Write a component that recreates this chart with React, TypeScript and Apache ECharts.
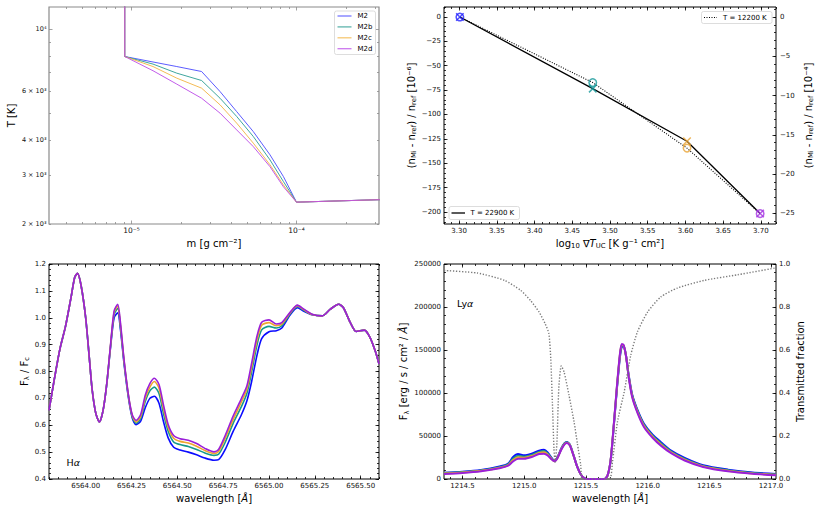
import React, { useEffect, useRef } from 'react';
import * as echarts from 'echarts';

const FONT = 'DejaVu Sans';
const BLACK = '#000000';
const GREY = '#8a8a8a';

// ---------- Panel A : temperature structure T(m) ----------
const modelNames = ['M2', 'M2b', 'M2c', 'M2d'];
const atmColors = ['#4a4aff', '#2a9c92', '#f2b443', '#bb4ae8'];
const massGrid = [9.1e-6, 9.1e-6, 1.35e-5, 1.88e-5, 2.66e-5, 3.44e-5, 4.34e-5, 5.47e-5, 6.91e-5, 8.33e-5, 1.0e-4, 3.2e-4];
const tempM2 = [20000, 7975, 7620, 7340, 7045, 5970, 5060, 4290, 3540, 2960, 2395, 2445];
const tempM2b = [20000, 7975, 7490, 6950, 6540, 5650, 4860, 4120, 3395, 2840, 2395, 2445];
const tempM2c = [20000, 7975, 7340, 6670, 6140, 5350, 4600, 3900, 3260, 2760, 2395, 2445];
const tempM2d = [20000, 7975, 7090, 6350, 5650, 4995, 4350, 3790, 3210, 2720, 2395, 2445];
const massRange = [3.1623e-6, 3.1623e-4];
const tempRange = [2000, 12000];
const massMajorTicks = [1e-5, 1e-4];
const massTickLabels = ['10⁻⁵', '10⁻⁴'];
const massMinorTicks = [4e-6, 5e-6, 6e-6, 7e-6, 8e-6, 9e-6, 2e-5, 3e-5, 4e-5, 5e-5, 6e-5, 7e-5, 8e-5, 9e-5, 2e-4, 3e-4];
const tempMajorTicks = [10000];
const tempLabelTicks = [2000, 3000, 4000, 6000, 10000];
const tempTickLabels = ['2 × 10³', '3 × 10³', '4 × 10³', '6 × 10³', '10⁴'];
const tempMinorTicks = [2000, 3000, 4000, 5000, 6000, 7000, 8000, 9000];

// ---------- Panel B : refractive index change vs gradient ----------
const gradTuc = [2000, 3000, 4000, 5000];
const markerColors = ['#2323ff', '#17999a', '#e9a332', '#a535e2'];
const dnHot = [0, -73.5, -127.5, -201.5]; // T = 22900 K, 1e-6
const dnCool = [0, -8.35, -16.7, -25.05]; // T = 12200 K, 1e-4
const gradRange = [3.28, 3.72];
const dnHotRange = [-212.3, 10.2];
const dnCoolRange = [-26.37, 1.28];
const gradTicks = [3.3, 3.35, 3.4, 3.45, 3.5, 3.55, 3.6, 3.65, 3.7];
const dnHotTicks = [-200, -175, -150, -125, -100, -75, -50, -25, 0];
const dnCoolTicks = [-25, -20, -15, -10, -5, 0];
const hotLegend = 'T = 22900 K';
const coolLegend = 'T = 12200 K';

// ---------- Panel C : H alpha ----------
const haWave = [6563.80, 6563.83, 6563.86, 6563.89, 6563.92, 6563.94, 6563.955, 6563.975, 6564.00, 6564.02, 6564.035, 6564.055, 6564.075, 6564.095, 6564.115, 6564.135, 6564.155, 6564.175, 6564.19, 6564.21, 6564.235, 6564.255, 6564.275, 6564.30, 6564.325, 6564.35, 6564.375, 6564.40, 6564.425, 6564.45, 6564.48, 6564.515, 6564.56, 6564.605, 6564.65, 6564.70, 6564.725, 6564.76, 6564.805, 6564.85, 6564.88, 6564.905, 6564.935, 6564.96, 6565.00, 6565.04, 6565.07, 6565.115, 6565.155, 6565.19, 6565.235, 6565.29, 6565.335, 6565.38, 6565.405, 6565.445, 6565.475, 6565.52, 6565.55, 6565.58, 6565.60];
const haM2 = [0.655, 0.775, 0.885, 0.968, 1.075, 1.15, 1.165, 1.12, 1.0, 0.85, 0.735, 0.645, 0.612, 0.655, 0.752, 0.885, 1.0, 1.018, 0.955, 0.825, 0.695, 0.625, 0.602, 0.615, 0.665, 0.7, 0.708, 0.682, 0.612, 0.553, 0.518, 0.508, 0.5, 0.49, 0.478, 0.47, 0.472, 0.508, 0.578, 0.64, 0.692, 0.762, 0.862, 0.922, 0.948, 0.952, 0.962, 1.01, 1.037, 1.024, 1.011, 1.007, 1.032, 1.05, 1.038, 0.98, 0.949, 0.954, 0.928, 0.875, 0.828];
const haM2b = [0.655, 0.775, 0.885, 0.968, 1.075, 1.15, 1.165, 1.12, 1.0, 0.85, 0.735, 0.645, 0.612, 0.655, 0.754, 0.89, 1.012, 1.035, 0.965, 0.832, 0.7, 0.63, 0.607, 0.625, 0.688, 0.728, 0.742, 0.718, 0.642, 0.578, 0.538, 0.528, 0.521, 0.51, 0.497, 0.488, 0.492, 0.535, 0.608, 0.67, 0.72, 0.797, 0.9, 0.955, 0.968, 0.962, 0.97, 1.015, 1.042, 1.028, 1.012, 1.007, 1.032, 1.05, 1.038, 0.98, 0.949, 0.954, 0.928, 0.875, 0.828];
const haM2c = [0.655, 0.775, 0.885, 0.968, 1.075, 1.15, 1.165, 1.12, 1.0, 0.85, 0.735, 0.645, 0.612, 0.655, 0.755, 0.892, 1.02, 1.044, 0.972, 0.836, 0.703, 0.634, 0.612, 0.633, 0.7, 0.742, 0.763, 0.738, 0.66, 0.592, 0.552, 0.54, 0.534, 0.522, 0.506, 0.495, 0.502, 0.55, 0.622, 0.688, 0.735, 0.815, 0.918, 0.972, 0.982, 0.97, 0.976, 1.018, 1.045, 1.03, 1.012, 1.007, 1.032, 1.05, 1.038, 0.98, 0.949, 0.954, 0.928, 0.875, 0.828];
const haM2d = [0.655, 0.775, 0.885, 0.968, 1.075, 1.15, 1.165, 1.12, 1.0, 0.85, 0.735, 0.645, 0.612, 0.655, 0.755, 0.895, 1.025, 1.05, 0.98, 0.84, 0.705, 0.637, 0.618, 0.64, 0.712, 0.755, 0.775, 0.752, 0.674, 0.603, 0.562, 0.55, 0.544, 0.532, 0.514, 0.501, 0.51, 0.56, 0.635, 0.7, 0.748, 0.83, 0.933, 0.983, 0.992, 0.977, 0.982, 1.02, 1.047, 1.032, 1.013, 1.007, 1.032, 1.05, 1.038, 0.98, 0.949, 0.954, 0.928, 0.875, 0.828];
const lineColors = ['#0b0bff', '#15998c', '#eea52e', '#9a1fd9'];
const haRange = [6563.80, 6565.60];
const haFluxRange = [0.4, 1.2];
const haWaveTicks = [6564.0, 6564.25, 6564.5, 6564.75, 6565.0, 6565.25, 6565.5];
const haFluxTicks = [0.4, 0.5, 0.6, 0.7, 0.8, 0.9, 1.0, 1.1, 1.2];

// ---------- Panel D : Lyman alpha ----------
const lyWave = [1214.35, 1214.5, 1214.65, 1214.8, 1214.87, 1214.91, 1214.95, 1215.0, 1215.06, 1215.12, 1215.16, 1215.19, 1215.22, 1215.245, 1215.27, 1215.3, 1215.325, 1215.345, 1215.37, 1215.4, 1215.43, 1215.46, 1215.49, 1215.52, 1215.6, 1215.65, 1215.675, 1215.7, 1215.725, 1215.75, 1215.775, 1215.79, 1215.805, 1215.825, 1215.845, 1215.875, 1215.92, 1215.97, 1216.04, 1216.11, 1216.19, 1216.3, 1216.45, 1216.65, 1216.85, 1217.04];
const lyM2 = [7400, 8500, 10500, 14500, 18000, 25500, 29000, 27500, 29500, 33000, 34000, 31000, 25000, 21000, 25500, 35500, 41500, 43000, 40000, 27500, 14000, 5000, 800, 0, 0, 0, 3800, 21000, 60000, 103000, 141000, 153500, 154000, 143000, 122000, 98000, 79500, 64300, 51500, 42500, 33000, 24500, 16000, 10900, 7500, 5800];
const lyM2b = [7000, 8000, 10000, 13800, 17000, 23800, 27000, 26000, 28000, 31500, 32500, 29800, 24300, 20800, 25200, 35000, 41000, 42600, 39600, 27300, 14000, 5000, 800, 0, 0, 0, 3900, 21500, 61000, 104500, 143000, 155000, 155000, 143000, 121300, 97000, 78300, 63000, 50300, 41200, 32000, 23500, 15300, 10200, 7000, 5300];
const lyM2c = [6400, 7500, 9500, 13100, 16200, 22000, 25200, 24700, 26700, 30200, 31000, 28600, 23600, 20600, 24800, 34500, 40500, 42200, 39300, 27100, 14000, 5000, 800, 0, 0, 0, 3950, 21800, 61500, 105300, 144000, 156000, 155500, 143000, 120700, 96000, 77200, 61800, 49200, 39900, 31000, 22500, 14600, 9500, 6500, 4800];
const lyM2d = [5800, 7000, 9000, 12500, 15500, 20500, 23500, 23500, 25500, 29000, 29500, 27500, 23000, 20500, 24500, 34000, 40000, 41900, 39000, 27000, 14000, 5000, 800, 0, 0, 0, 4000, 22000, 62000, 106000, 145000, 157000, 156000, 143000, 120000, 95000, 76000, 60500, 48000, 38500, 30000, 21500, 14000, 8900, 6000, 4300];
const transWave = [1214.35, 1214.62, 1214.84, 1214.97, 1215.05, 1215.12, 1215.17, 1215.2, 1215.215, 1215.228, 1215.241, 1215.25, 1215.265, 1215.28, 1215.3, 1215.323, 1215.363, 1215.404, 1215.431, 1215.458, 1215.471, 1215.69, 1215.715, 1215.755, 1215.81, 1215.863, 1215.917, 1216.0, 1216.107, 1216.24, 1216.46, 1216.73, 1217.04];
const transFrac = [0.97, 0.958, 0.924, 0.878, 0.831, 0.777, 0.722, 0.676, 0.56, 0.358, 0.141, 0.079, 0.17, 0.42, 0.526, 0.498, 0.389, 0.265, 0.164, 0.064, 0, 0, 0.079, 0.265, 0.405, 0.575, 0.684, 0.777, 0.847, 0.888, 0.924, 0.95, 0.982];
const lyRange = [1214.35, 1217.04];
const lyFluxRange = [0, 250000];
const transRange = [0, 1];
const lyWaveTicks = [1214.5, 1215.0, 1215.5, 1216.0, 1216.5, 1217.0];
const lyFluxTicks = [0, 50000, 100000, 150000, 200000, 250000];
const transTicks = [0, 0.2, 0.4, 0.6, 0.8, 1.0];

// ---------- helpers ----------
const L10 = (v: number) => Math.log10(v);
function stepTicks(min: number, max: number, step: number) {
  const out: number[] = [];
  const k0 = Math.ceil(min / step - 1e-7);
  const k1 = Math.floor(max / step + 1e-7);
  for (let k = k0; k <= k1; k++) out.push(+(k * step).toFixed(6));
  return out;
}
const minus = (s: string) => s.replace('-', '−');
const fmtFixed = (d: number) => (v: number) => minus(v.toFixed(d));
const fmtInt = (v: number) => minus(String(Math.round(v)));
function fmtLookup(values: number[], labels: string[]) {
  return (v: number) => {
    let best = 0;
    for (let i = 1; i < values.length; i++) if (Math.abs(values[i] - v) < Math.abs(values[best] - v)) best = i;
    return labels[best];
  };
}

const RICH = {
  sub: { fontSize: 6.8, fontFamily: FONT, color: '#000', verticalAlign: 'bottom', lineHeight: 7 },
  it: { fontSize: 10, fontFamily: FONT, color: '#000', fontStyle: 'italic', lineHeight: 13 },
};

type LabelSpec = { values: number[]; fmt: (v: number) => string; size: number; margin?: number };
type NameSpec = { text: string; gap: number };

function mkAxis(grid: number, position: string, range: number[], ticks: number[], tickLen: number, tickColor: string, label?: LabelSpec, name?: NameSpec) {
  const ax: any = {
    type: 'value',
    gridIndex: grid,
    position,
    min: range[0],
    max: range[1],
    axisLine: { show: false, onZero: false },
    splitLine: { show: false },
    axisPointer: { show: false },
    axisTick: { show: true, inside: true, length: tickLen, customValues: ticks, lineStyle: { color: tickColor, width: 0.8 } },
    axisLabel: label
      ? { show: true, customValues: label.values, formatter: (v: number) => label.fmt(v), fontSize: label.size, fontFamily: FONT, color: '#111', margin: label.margin ?? 3 }
      : { show: false },
  };
  if (name) {
    ax.name = name.text;
    ax.nameLocation = 'middle';
    ax.nameGap = name.gap;
    ax.nameTextStyle = { fontSize: 10, fontFamily: FONT, color: '#000', lineHeight: 13, rich: RICH };
    if (position === 'left' || position === 'right') ax.nameRotate = 90;
  }
  return ax;
}

const MAJ = 3.5;
const MIN = 2;

function buildOption() {
  const grids = [
    { left: 49, top: 7, width: 330, height: 217, border: GREY, bw: 1.2 },
    { left: 444, top: 7, width: 332, height: 217, border: BLACK, bw: 1 },
    { left: 49, top: 264, width: 330, height: 215, border: BLACK, bw: 1 },
    { left: 444, top: 264, width: 332, height: 215, border: BLACK, bw: 1 },
  ];

  const xAxes: any[] = [];
  const yAxes: any[] = [];

  // Panel A (grid 0) — log axes drawn on log10 values
  const aX = massRange.map(L10);
  const aY = tempRange.map(L10);
  const aXMaj = massMajorTicks.map(L10);
  const aXMin = massMinorTicks.map(L10);
  const aYMaj = tempMajorTicks.map(L10);
  const aYLab = tempLabelTicks.map(L10);
  const aYMin = tempMinorTicks.map(L10);
  xAxes.push(
    mkAxis(0, 'bottom', aX, aXMaj, MAJ, GREY, { values: aXMaj, fmt: fmtLookup(aXMaj, massTickLabels), size: 7.5, margin: 2.5 }, { text: 'm [g cm⁻²]', gap: 12.5 }),
    mkAxis(0, 'top', aX, aXMaj, MAJ, GREY),
    mkAxis(0, 'bottom', aX, aXMin, MIN, GREY),
    mkAxis(0, 'top', aX, aXMin, MIN, GREY),
  );
  yAxes.push(
    mkAxis(0, 'left', aY, aYMaj, MAJ, GREY, { values: aYLab, fmt: fmtLookup(aYLab, tempTickLabels), size: 6.5, margin: 2.5 }, { text: 'T [K]', gap: 29.5 }),
    mkAxis(0, 'right', aY, aYMaj, MAJ, GREY),
    mkAxis(0, 'left', aY, aYMin, MIN, GREY),
    mkAxis(0, 'right', aY, aYMin, MIN, GREY),
  );

  // Panel B (grid 1)
  const bX = gradRange;
  xAxes.push(
    mkAxis(1, 'bottom', bX, gradTicks, MAJ, BLACK, { values: gradTicks, fmt: fmtFixed(2), size: 7 }, { text: 'log{sub|10} ∇{it|T}{sub|UC} [K g⁻¹ cm²]', gap: 12.5 }),
    mkAxis(1, 'top', bX, gradTicks, MAJ, BLACK),
    mkAxis(1, 'bottom', bX, stepTicks(bX[0], bX[1], 0.01), MIN, BLACK),
    mkAxis(1, 'top', bX, stepTicks(bX[0], bX[1], 0.01), MIN, BLACK),
  );
  yAxes.push(
    mkAxis(1, 'left', dnHotRange, dnHotTicks, MAJ, BLACK, { values: dnHotTicks, fmt: fmtInt, size: 7 }, { text: '(n{sub|Mi} - n{sub|ref}) / n{sub|ref} [10⁻⁶]', gap: 25.5 }),
    mkAxis(1, 'right', dnCoolRange, dnCoolTicks, MAJ, BLACK, { values: dnCoolTicks, fmt: fmtInt, size: 7, margin: 4 }, { text: '(n{sub|Mi} - n{sub|ref}) / n{sub|ref} [10⁻⁴]', gap: 25.5 }),
    mkAxis(1, 'left', dnHotRange, stepTicks(dnHotRange[0], dnHotRange[1], 5), MIN, BLACK),
    mkAxis(1, 'right', dnCoolRange, stepTicks(dnCoolRange[0], dnCoolRange[1], 1), MIN, BLACK),
  );

  // Panel C (grid 2)
  xAxes.push(
    mkAxis(2, 'bottom', haRange, haWaveTicks, MAJ, BLACK, { values: haWaveTicks, fmt: fmtFixed(2), size: 7 }, { text: 'wavelength [{it|Å}]', gap: 12.5 }),
    mkAxis(2, 'top', haRange, haWaveTicks, MAJ, BLACK),
    mkAxis(2, 'bottom', haRange, stepTicks(haRange[0], haRange[1], 0.05), MIN, BLACK),
    mkAxis(2, 'top', haRange, stepTicks(haRange[0], haRange[1], 0.05), MIN, BLACK),
  );
  yAxes.push(
    mkAxis(2, 'left', haFluxRange, haFluxTicks, MAJ, BLACK, { values: haFluxTicks, fmt: fmtFixed(1), size: 7 }, { text: 'F{sub|λ} / F{sub|c}', gap: 17.5 }),
    mkAxis(2, 'right', haFluxRange, haFluxTicks, MAJ, BLACK),
    mkAxis(2, 'left', haFluxRange, stepTicks(haFluxRange[0], haFluxRange[1], 0.02), MIN, BLACK),
    mkAxis(2, 'right', haFluxRange, stepTicks(haFluxRange[0], haFluxRange[1], 0.02), MIN, BLACK),
  );

  // Panel D (grid 3)
  xAxes.push(
    mkAxis(3, 'bottom', lyRange, lyWaveTicks, MAJ, BLACK, { values: lyWaveTicks, fmt: fmtFixed(1), size: 7 }, { text: 'wavelength [{it|Å}]', gap: 12.5 }),
    mkAxis(3, 'top', lyRange, lyWaveTicks, MAJ, BLACK),
    mkAxis(3, 'bottom', lyRange, stepTicks(lyRange[0], lyRange[1], 0.1), MIN, BLACK),
    mkAxis(3, 'top', lyRange, stepTicks(lyRange[0], lyRange[1], 0.1), MIN, BLACK),
  );
  yAxes.push(
    mkAxis(3, 'left', lyFluxRange, lyFluxTicks, MAJ, BLACK, { values: lyFluxTicks, fmt: fmtInt, size: 7 }, { text: 'F{sub|λ} [erg / s / cm² / {it|Å}]', gap: 29.5 }),
    mkAxis(3, 'right', transRange, transTicks, MAJ, BLACK, { values: transTicks, fmt: fmtFixed(1), size: 7 }, { text: 'Transmitted fraction', gap: 17.3 }),
    mkAxis(3, 'left', lyFluxRange, stepTicks(lyFluxRange[0], lyFluxRange[1], 10000), MIN, BLACK),
    mkAxis(3, 'right', transRange, stepTicks(transRange[0], transRange[1], 0.04), MIN, BLACK),
  );

  const series: any[] = [];

  // Panel A series
  const tlTemps = [tempM2, tempM2b, tempM2c, tempM2d];
  modelNames.forEach((n, i) => {
    series.push({
      type: 'line', name: n, xAxisIndex: 0, yAxisIndex: 0, silent: true,
      showSymbol: false, symbol: 'none',
      data: massGrid.map((m, j) => [L10(m), L10(tlTemps[i][j])]),
      lineStyle: { color: atmColors[i], width: 1, opacity: 0.9 },
      itemStyle: { color: atmColors[i] },
      z: 2 + i,
    });
  });

  // Panel B series
  const gx = gradTuc.map(L10);
  series.push({
    type: 'line', name: hotLegend, xAxisIndex: 4, yAxisIndex: 4, silent: true, showSymbol: false, symbol: 'none',
    data: gx.map((x, i) => [x, dnHot[i]]),
    lineStyle: { color: '#000', width: 1.3 }, z: 3,
  });
  series.push({
    type: 'line', name: coolLegend, xAxisIndex: 4, yAxisIndex: 5, silent: true, showSymbol: false, symbol: 'none',
    data: gx.map((x, i) => [x, dnCool[i]]),
    lineStyle: { color: '#000', width: 1.1, type: [1, 1.5] }, z: 3,
  });
  series.push({
    type: 'scatter', name: 'circles', xAxisIndex: 4, yAxisIndex: 5, silent: true,
    symbol: 'circle', symbolSize: 7.5,
    data: gx.map((x, i) => ({ value: [x, dnCool[i]], itemStyle: { borderColor: markerColors[i] } })),
    itemStyle: { color: 'rgba(0,0,0,0)', borderWidth: 1.5 }, z: 5,
  });
  series.push({
    type: 'scatter', name: 'crosses', xAxisIndex: 4, yAxisIndex: 4, silent: true,
    symbol: 'path://M0,0 L10,10 M10,0 L0,10', symbolSize: 7.5,
    data: gx.map((x, i) => ({ value: [x, dnHot[i]], itemStyle: { borderColor: markerColors[i] } })),
    itemStyle: { color: 'rgba(0,0,0,0)', borderWidth: 1.5 }, z: 5,
  });

  // Panel C series
  const haSets = [haM2, haM2b, haM2c, haM2d];
  modelNames.forEach((n, i) => {
    series.push({
      type: 'line', name: 'Ha ' + n, xAxisIndex: 8, yAxisIndex: 8, silent: true, showSymbol: false, symbol: 'none',
      smooth: 0.25,
      data: haWave.map((w, j) => [w, haSets[i][j]]),
      lineStyle: { color: lineColors[i], width: 1.6 }, z: 2 + i,
    });
  });

  // Panel D series
  const lySets = [lyM2, lyM2b, lyM2c, lyM2d];
  modelNames.forEach((n, i) => {
    series.push({
      type: 'line', name: 'Lya ' + n, xAxisIndex: 12, yAxisIndex: 12, silent: true, showSymbol: false, symbol: 'none',
      smooth: 0.25,
      data: lyWave.map((w, j) => [w, lySets[i][j]]),
      lineStyle: { color: lineColors[i], width: 2 }, z: 2 + i,
    });
  });
  series.push({
    type: 'line', name: 'transmission', xAxisIndex: 12, yAxisIndex: 13, silent: true, showSymbol: false, symbol: 'none',
    smooth: 0.2,
    data: transWave.map((w, j) => [w, transFrac[j]]),
    lineStyle: { color: '#7a7a7a', width: 1.4, type: [1.3, 1.7] }, z: 8,
  });

  // Legends and annotations
  const txt = (x: number, y: number, text: string, size: number, extra: any = {}) => ({
    type: 'text', x, y, z: 101,
    style: { text, fontSize: size, fontFamily: FONT, fill: '#000', align: 'left', verticalAlign: 'middle', ...extra },
  });
  const graphic: any[] = [];
  graphic.push({ type: 'rect', z: 100, shape: { x: 334.5, y: 11, width: 41, height: 43.5, r: 2 }, style: { fill: '#fff', stroke: '#d4d4d4', lineWidth: 0.8 } });
  modelNames.forEach((n, i) => {
    const y = 16 + i * 10.9;
    graphic.push({ type: 'line', z: 101, shape: { x1: 337.5, y1: y, x2: 351.5, y2: y }, style: { stroke: atmColors[i], lineWidth: 1.3, opacity: 0.75 } });
    graphic.push(txt(357.5, y, n, 7));
  });
  graphic.push({ type: 'rect', z: 100, shape: { x: 701.5, y: 11.5, width: 70.5, height: 12, r: 2 }, style: { fill: '#fff', stroke: '#d4d4d4', lineWidth: 0.8 } });
  graphic.push({ type: 'line', z: 101, shape: { x1: 704, y1: 17.5, x2: 717, y2: 17.5 }, style: { stroke: '#000', lineWidth: 1.1, lineDash: [1, 1.5] } });
  graphic.push(txt(723, 17.5, coolLegend, 7));
  graphic.push({ type: 'rect', z: 100, shape: { x: 449, y: 206.5, width: 70.5, height: 13, r: 2 }, style: { fill: '#fff', stroke: '#d4d4d4', lineWidth: 0.8 } });
  graphic.push({ type: 'line', z: 101, shape: { x1: 451.5, y1: 213, x2: 465, y2: 213 }, style: { stroke: '#000', lineWidth: 1.3 } });
  graphic.push(txt(470.5, 213, hotLegend, 7));
  const italicRich = { a: { fontSize: 9.5, fontFamily: FONT, fontStyle: 'italic', fill: '#000' } };
  graphic.push(txt(66.5, 462, 'H{a|α}', 9.5, { rich: italicRich }));
  graphic.push(txt(457, 303.5, 'Ly{a|α}', 9.5, { rich: italicRich }));

  return {
    animation: false,
    backgroundColor: '#ffffff',
    textStyle: { fontFamily: FONT },
    grid: grids.map((g) => ({
      left: g.left, top: g.top, width: g.width, height: g.height,
      show: true, borderColor: g.border, borderWidth: g.bw, backgroundColor: 'rgba(0,0,0,0)', containLabel: false,
    })),
    xAxis: xAxes,
    yAxis: yAxes,
    series,
    graphic,
  };
}

export default function App() {
  const ref = useRef<HTMLDivElement>(null);
  useEffect(() => {
    if (!ref.current) return;
    const chart = echarts.init(ref.current, null, { renderer: 'svg' });
    chart.setOption(buildOption() as any);
    return () => chart.dispose();
  }, []);
  return (
    <div
      ref={ref}
      style={{ position: 'absolute', left: 0, top: 0, width: 822, height: 514, background: '#fff' }}
    />
  );
}
